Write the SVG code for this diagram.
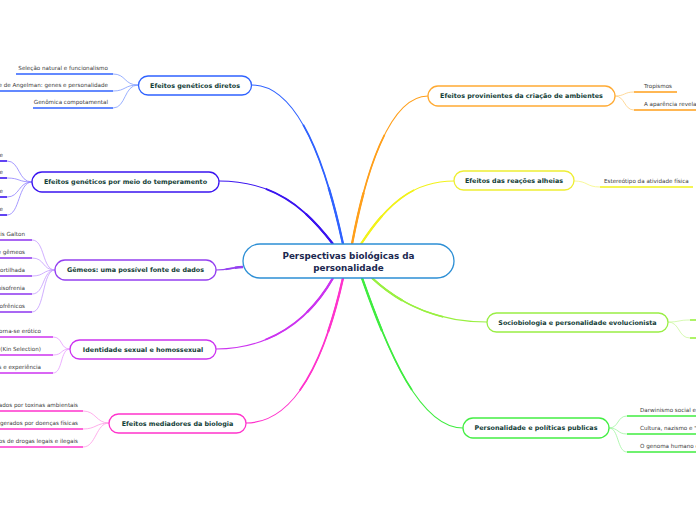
<svg xmlns="http://www.w3.org/2000/svg" width="696" height="520" viewBox="0 0 696 520">
<style>
.node{fill:#fff;stroke-width:1.3}
.nt{font-family:"DejaVu Sans",Verdana,sans-serif;font-weight:bold;font-size:6.4px;fill:#123d36;text-anchor:middle}
.ct{font-family:"DejaVu Sans",Verdana,sans-serif;font-weight:bold;font-size:8.8px;fill:#1b2850;text-anchor:middle}
.lt{font-family:"DejaVu Sans",Verdana,sans-serif;font-size:5.6px;fill:#3a3a3a}
.le{text-anchor:end}
.ul{stroke-width:1.6;fill:none}
.lc{stroke-width:0.8;fill:none}
.t1{fill:none;stroke-width:1.1}
.t2{fill:none;stroke-width:1.7;stroke-dasharray:0 35 65 0}
.t3{fill:none;stroke-width:2.3;stroke-dasharray:0 70 30 0}
</style>
<defs>
<path id="c1" pathLength="100" d="M252,85 C300,85 327,170 343,244"/>
<path id="c2" pathLength="100" d="M219,181 C278,181 308,212 333,244"/>
<path id="c3" pathLength="100" d="M216,270 C228,270 234,267 243,267"/>
<path id="c4" pathLength="100" d="M216,349 C268,349 308,322 333,278"/>
<path id="c5" pathLength="100" d="M246,423 C300,423 328,345 343,278"/>
<path id="c6" pathLength="100" d="M428,96 C390,96 366,170 352,244"/>
<path id="c7" pathLength="100" d="M454,181 C415,181 388,202 361,244"/>
<path id="c8" pathLength="100" d="M487,322 C440,322 402,306 372,278"/>
<path id="c9" pathLength="100" d="M463,428 C420,428 388,352 362,278"/>
</defs>
<rect width="696" height="520" fill="#fff"/>
<g id="connectors">
<g stroke="#2f62ff"><use href="#c1" class="t1"/><use href="#c1" class="t2"/><use href="#c1" class="t3"/></g>
<g stroke="#3a14f0"><use href="#c2" class="t1"/><use href="#c2" class="t2"/><use href="#c2" class="t3"/></g>
<g stroke="#9440f0"><use href="#c3" class="t1"/><use href="#c3" class="t2"/><use href="#c3" class="t3"/></g>
<g stroke="#cc33f0"><use href="#c4" class="t1"/><use href="#c4" class="t2"/><use href="#c4" class="t3"/></g>
<g stroke="#ff33cc"><use href="#c5" class="t1"/><use href="#c5" class="t2"/><use href="#c5" class="t3"/></g>
<g stroke="#ff9f1a"><use href="#c6" class="t1"/><use href="#c6" class="t2"/><use href="#c6" class="t3"/></g>
<g stroke="#f2f21a"><use href="#c7" class="t1"/><use href="#c7" class="t2"/><use href="#c7" class="t3"/></g>
<g stroke="#99f040"><use href="#c8" class="t1"/><use href="#c8" class="t2"/><use href="#c8" class="t3"/></g>
<g stroke="#3fec3f"><use href="#c9" class="t1"/><use href="#c9" class="t2"/><use href="#c9" class="t3"/></g>
<!-- leaf connectors -->
<g stroke="#7f9cff">
<path class="lc" d="M138,85 C124,85 126,74 113,74"/>
<path class="lc" d="M138,85 C124,85 126,91 113,91"/>
<path class="lc" d="M138,85 C124,85 126,108 113,108"/>
</g>
<g stroke="#8f80ff">
<path class="lc" d="M32,182 C18,182 20,161 7,161"/>
<path class="lc" d="M32,182 C18,182 20,178 7,178"/>
<path class="lc" d="M32,182 C18,182 20,197 7,197"/>
<path class="lc" d="M32,182 C18,182 20,215 7,215"/>
</g>
<g stroke="#c49aff">
<path class="lc" d="M55,270 C42,270 45,240 32,240"/>
<path class="lc" d="M55,270 C42,270 45,258 32,258"/>
<path class="lc" d="M55,270 C42,270 45,276 32,276"/>
<path class="lc" d="M55,270 C42,270 45,294 32,294"/>
<path class="lc" d="M55,270 C42,270 45,312 32,312"/>
</g>
<g stroke="#e79aff">
<path class="lc" d="M70,349 C60,349 63,337 53,337"/>
<path class="lc" d="M70,349 C60,349 63,355 53,355"/>
<path class="lc" d="M70,349 C60,349 63,373 53,373"/>
</g>
<g stroke="#ff9ae6">
<path class="lc" d="M109,423 C96,423 96,411 83,411"/>
<path class="lc" d="M109,423 C96,423 96,429 83,429"/>
<path class="lc" d="M109,423 C96,423 96,447 83,447"/>
</g>
<g stroke="#ffcf80">
<path class="lc" d="M615,96 C625,96 624,92 634,92"/>
<path class="lc" d="M615,96 C625,96 624,110 634,110"/>
</g>
<g stroke="#f6f680">
<path class="lc" d="M574,181 C588,181 586,187 600,187"/>
</g>
<g stroke="#ccf7a0">
<path class="lc" d="M668,322 C680,322 678,320 690,320"/>
<path class="lc" d="M668,322 C680,322 678,338 690,338"/>
</g>
<g stroke="#9ff59f">
<path class="lc" d="M609,428 C619,428 617,416 627,416"/>
<path class="lc" d="M609,428 C619,428 617,434 627,434"/>
<path class="lc" d="M609,428 C619,428 617,452 627,452"/>
</g>
</g>
<g id="center">
<rect class="node" x="243" y="244" width="211" height="34" rx="17" stroke="#2d8fd5"/>
<text class="ct" x="348.5" y="259">Perspectivas biológicas da</text>
<text class="ct" x="348.5" y="270.5">personalidade</text>
</g>
<g id="n1">
<rect class="node" x="138.5" y="76" width="113" height="19" rx="9.5" stroke="#2f62ff"/>
<text class="nt" x="195" y="87.7">Efeitos genéticos diretos</text>
<line class="ul" stroke="#2f62ff" x1="16" y1="74" x2="113" y2="74"/>
<text class="lt le" x="108" y="69.5">Seleção natural e funcionalismo</text>
<line class="ul" stroke="#2f62ff" x1="0" y1="91" x2="113" y2="91"/>
<text class="lt le" x="108" y="86.5">Síndrome de Angelman: genes e personalidade</text>
<line class="ul" stroke="#2f62ff" x1="33" y1="108" x2="113" y2="108"/>
<text class="lt le" x="108" y="103.5">Genômica compotamental</text>
</g>
<g id="n2">
<rect class="node" x="32" y="172" width="187" height="20" rx="10" stroke="#3a14f0"/>
<text class="nt" x="125.5" y="184.3">Efeitos genéticos por meio do temperamento</text>
<line class="ul" stroke="#3a14f0" x1="0" y1="161" x2="7" y2="161"/>
<text class="lt le" x="3" y="156.5">Emotividade</text>
<line class="ul" stroke="#3a14f0" x1="0" y1="178" x2="7" y2="178"/>
<text class="lt le" x="3" y="173.5">Atividade</text>
<line class="ul" stroke="#3a14f0" x1="0" y1="197" x2="7" y2="197"/>
<text class="lt le" x="3" y="192.5">Sociabilidade</text>
<line class="ul" stroke="#3a14f0" x1="0" y1="215" x2="7" y2="215"/>
<text class="lt le" x="3" y="210.5">Impulsividade</text>
</g>
<g id="n3">
<rect class="node" x="55" y="260" width="161" height="20" rx="10" stroke="#9440f0"/>
<text class="nt" x="135.5" y="272.3">Gêmeos: uma possível fonte de dados</text>
<line class="ul" stroke="#9440f0" x1="0" y1="240" x2="32" y2="240"/>
<text class="lt le" x="25" y="235.5">Francis Galton</text>
<line class="ul" stroke="#9440f0" x1="0" y1="258" x2="32" y2="258"/>
<text class="lt le" x="25" y="253.5">Estudos de gêmeos</text>
<line class="ul" stroke="#9440f0" x1="0" y1="276" x2="32" y2="276"/>
<text class="lt le" x="25" y="271.5">Família não comportilhada</text>
<line class="ul" stroke="#9440f0" x1="0" y1="294" x2="32" y2="294"/>
<text class="lt le" x="25" y="289.5">Gêmeos e esquisofrenia</text>
<line class="ul" stroke="#9440f0" x1="0" y1="312" x2="32" y2="312"/>
<text class="lt le" x="25" y="307.5">Adotados de pais esquizofrênicos</text>
</g>
<g id="n4">
<rect class="node" x="70" y="340" width="146" height="19" rx="9.5" stroke="#cc33f0"/>
<text class="nt" x="143" y="351.7">Identidade sexual e homossexual</text>
<line class="ul" stroke="#cc33f0" x1="0" y1="337" x2="53" y2="337"/>
<text class="lt le" x="41" y="332.5">O exótico torna-se erótico</text>
<line class="ul" stroke="#cc33f0" x1="0" y1="355" x2="53" y2="355"/>
<text class="lt le" x="41" y="350.5">Seleção de parentesco (Kin Selection)</text>
<line class="ul" stroke="#cc33f0" x1="0" y1="373" x2="53" y2="373"/>
<text class="lt le" x="41" y="368.5">Hormônios e experiência</text>
</g>
<g id="n5">
<rect class="node" x="109" y="414" width="137" height="19" rx="9.5" stroke="#ff33cc"/>
<text class="nt" x="177.5" y="425.7">Efeitos mediadores da biologia</text>
<line class="ul" stroke="#ff33cc" x1="0" y1="411" x2="83" y2="411"/>
<text class="lt le" x="78" y="406.5">Efeitos gerados por toxinas ambientais</text>
<line class="ul" stroke="#ff33cc" x1="0" y1="429" x2="83" y2="429"/>
<text class="lt le" x="78" y="424.5">Efeitos gerados por doenças físicas</text>
<line class="ul" stroke="#ff33cc" x1="0" y1="447" x2="83" y2="447"/>
<text class="lt le" x="78" y="442.5">Efeitos de drogas legais e ilegais</text>
</g>
<g id="n6">
<rect class="node" x="428" y="86" width="187" height="20" rx="10" stroke="#ffaa33"/>
<text class="nt" x="521.5" y="98.3">Efeitos provinientes da criação de ambientes</text>
<line class="ul" stroke="#ff9f1a" x1="634" y1="92" x2="677" y2="92"/>
<text class="lt" x="644" y="87.5">Tropismos</text>
<line class="ul" stroke="#ff9f1a" x1="634" y1="110" x2="696" y2="110"/>
<text class="lt" x="644" y="105.5">A aparência revela a personalidade</text>
</g>
<g id="n7">
<rect class="node" x="454" y="171" width="120" height="19" rx="9.5" stroke="#eeee33"/>
<text class="nt" x="514" y="182.7">Efeitos das reações alheias</text>
<line class="ul" stroke="#f2f21a" x1="600" y1="187" x2="693" y2="187"/>
<text class="lt" x="604" y="182.5">Estereótipo da atividade física</text>
</g>
<g id="n8">
<rect class="node" x="487" y="313" width="181" height="19" rx="9.5" stroke="#99ee44"/>
<text class="nt" x="577.5" y="324.7">Sociobiologia e personalidade evolucionista</text>
<line class="ul" stroke="#99f040" x1="690" y1="320" x2="696" y2="320"/>
<line class="ul" stroke="#99f040" x1="690" y1="338" x2="696" y2="338"/>
</g>
<g id="n9">
<rect class="node" x="463" y="418" width="146" height="20" rx="10" stroke="#44ee44"/>
<text class="nt" x="536" y="430.3">Personalidade e políticas publicas</text>
<line class="ul" stroke="#3fec3f" x1="627" y1="416" x2="696" y2="416"/>
<text class="lt" x="640" y="411.5">Darwinismo social e eugenia</text>
<line class="ul" stroke="#3fec3f" x1="627" y1="434" x2="696" y2="434"/>
<text class="lt" x="640" y="429.5">Cultura, nazismo e "raça"</text>
<line class="ul" stroke="#3fec3f" x1="627" y1="452" x2="696" y2="452"/>
<text class="lt" x="640" y="447.5">O genoma humano e a ética</text>
</g>
</svg>
